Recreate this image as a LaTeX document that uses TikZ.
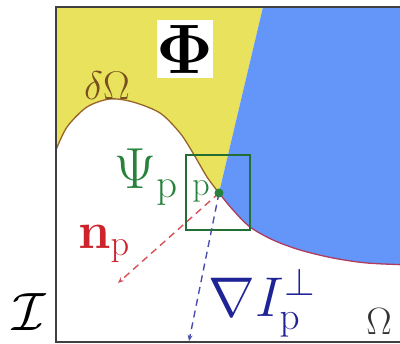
\RequirePackage{fix-cm}
\documentclass[tikz,border=0pt]{standalone}
\usepackage{amsmath,amssymb,bm}
\usepackage{tikz}
\usetikzlibrary{arrows.meta, positioning, calc}

\definecolor{yellowarea}{RGB}{232,226,92}
\definecolor{bluearea}{RGB}{100,150,250}
\definecolor{curveup}{RGB}{150,100,40}
\definecolor{curvelow}{RGB}{175,60,95}
\definecolor{psigreen}{RGB}{40,130,60}
\definecolor{nred}{RGB}{205,35,45}
\definecolor{gradblue}{RGB}{30,35,150}

\begin{document}
\begin{tikzpicture}[
    x=1pt, y=-1pt,
    frame/.style={draw=black!75, line width=1.8pt},
    lbl/.style={inner sep=0pt},
    vec/.style={dashed, dash pattern=on 7pt off 5pt, line width=1.4pt, -{Stealth[length=6pt,width=5pt]}},
    sq/.style={draw=psigreen!85!black, line width=1.3pt}
]

\clip (0,0) rectangle (400,344);

% regions
\fill[yellowarea] (56,7) -- (263,7) -- (219,193)
    -- plot[smooth] coordinates {(219,193) (207,177) (193,153) (180,133) (160,113) (133,102) (110,99) (87,107) (67,127) (56,150)}
    -- cycle;
\fill[bluearea] (263,7) -- (420,7) -- (420,265)
    -- plot[smooth] coordinates {(400,265) (367,263) (333,258) (300,250) (273,240) (250,227) (233,210) (219,193)}
    -- cycle;

% boundary
\draw[curveup, line width=1.3pt] plot[smooth] coordinates {(56,150) (67,127) (87,107) (110,99) (133,102) (160,113) (180,133) (193,153) (207,177) (219,193)};
\draw[curvelow, line width=1.3pt] plot[smooth] coordinates {(219,193) (233,210) (250,227) (273,240) (300,250) (333,258) (367,263) (410,265)};

\draw[frame] (56,7) rectangle (430,342);

% patch
\draw[sq] (186,155) rectangle (250,230);
\coordinate (p) at (219,193);
\coordinate (nend) at (118,283);
\coordinate (gend) at (189,341);

\draw[vec, nred!80] (p) -- (nend);
\draw[vec, gradblue!80] (p) -- (gend);
\fill[psigreen] (p) circle (4.5);

% labels
\node[lbl, fill=white, minimum width=56pt, minimum height=58pt] (phi) at (185,49)
    {\fontsize{70}{76}\selectfont$\boldsymbol{\Phi}$};
\node[lbl, text=curveup!80!black] (dOmega) at (107,86)
    {\fontsize{40}{44}\selectfont$\delta\Omega$};
\node[lbl, text=psigreen] (psi) at (146,177)
    {\fontsize{58}{62}\selectfont$\Psi_{\mathrm{p}}$};
\node[lbl, text=psigreen] (plabel) at (201,191)
    {\fontsize{34}{38}\selectfont$\mathrm{p}$};
\node[lbl, text=nred] (np) at (104,244)
    {\fontsize{52}{56}\selectfont$\mathbf{n}_{\mathrm{p}}$};
\node[lbl, text=gradblue] (gradI) at (262,303)
    {\fontsize{56}{60}\selectfont$\nabla I_{\mathrm{p}}^{\perp}$};
\node[lbl, text=black!80] (omega) at (379,322)
    {\fontsize{38}{42}\selectfont$\Omega$};
\node[lbl] (img) at (29,312)
    {\fontsize{54}{58}\selectfont$\mathcal{I}$};

\end{tikzpicture}
\end{document}
